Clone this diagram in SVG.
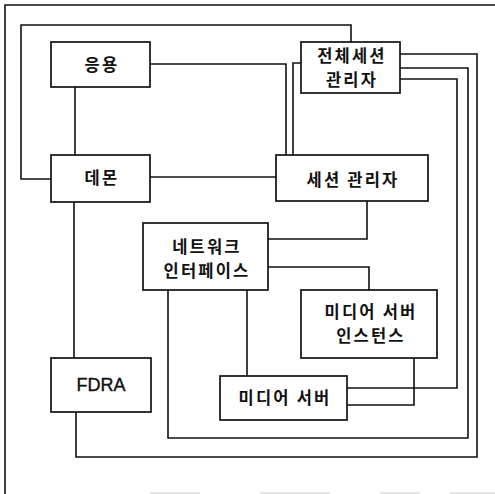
<svg xmlns="http://www.w3.org/2000/svg" width="495" height="494" viewBox="0 0 495 494">
<style>
.box{fill:#fff;stroke:#111;stroke-width:1.7}
.ln{fill:none;stroke:#111;stroke-width:1.6}
.t{font-family:"Noto Sans CJK KR","Noto Sans",sans-serif;font-size:16.5px;font-weight:700;fill:#111;text-anchor:middle;letter-spacing:2.2px}
.f{font-family:"Liberation Sans",Arial,sans-serif;font-size:18px;fill:#111;stroke:#111;stroke-width:0.4;text-anchor:middle}
</style>
<rect width="495" height="494" fill="#fff"/>
<path class="ln" d="M495,5 H5 V494"/>
<path d="M150,493 H200 M260,493 H330 M380,493 H420 M450,493 H495" fill="none" stroke="#ccc" stroke-width="1.2"/>
<g id="connectors">
<path class="ln" d="M75,87 V155"/>
<path class="ln" d="M150,64 H286 V155"/>
<path class="ln" d="M150,177 H276"/>
<path class="ln" d="M51,179 H21 V25 H351 V42"/>
<path class="ln" d="M301,63 H293 V155"/>
<path class="ln" d="M74,202 V358"/>
<path class="ln" d="M367,201 V239 H268"/>
<path class="ln" d="M268,267 H369 V290"/>
<path class="ln" d="M247,290 V376"/>
<path class="ln" d="M168,290 V438 H468 V68 H400"/>
<path class="ln" d="M76,412 V457 H477 V54 H400"/>
<path class="ln" d="M400,79 H457 V388 H347"/>
<path class="ln" d="M414,358 V405 H347"/>
</g>
<g id="app"><rect class="box" x="51" y="42" width="99" height="45"/><text class="t" x="102" y="71">응용</text></g>
<g id="daemon"><rect class="box" x="51" y="155" width="99" height="47"/><text class="t" x="102" y="184">데몬</text></g>
<g id="global-session-manager"><rect class="box" x="301" y="42" width="99" height="51"/><text class="t" x="352" y="62">전체세션</text><text class="t" x="352" y="86">관리자</text></g>
<g id="session-manager"><rect class="box" x="276" y="155" width="152" height="46"/><text class="t" x="353" y="186">세션 관리자</text></g>
<g id="network-interface"><rect class="box" x="143" y="223" width="125" height="67"/><text class="t" x="207" y="253">네트워크</text><text class="t" x="207" y="277">인터페이스</text></g>
<g id="media-server-instance"><rect class="box" x="301" y="290" width="136" height="68"/><text class="t" x="371" y="318">미디어 서버</text><text class="t" x="371" y="342">인스턴스</text></g>
<g id="media-server"><rect class="box" x="220" y="376" width="127" height="44"/><text class="t" x="285" y="404">미디어 서버</text></g>
<g id="fdra"><rect class="box" x="51" y="358" width="100" height="54"/><text class="f" x="101" y="391">FDRA</text></g>
</svg>
